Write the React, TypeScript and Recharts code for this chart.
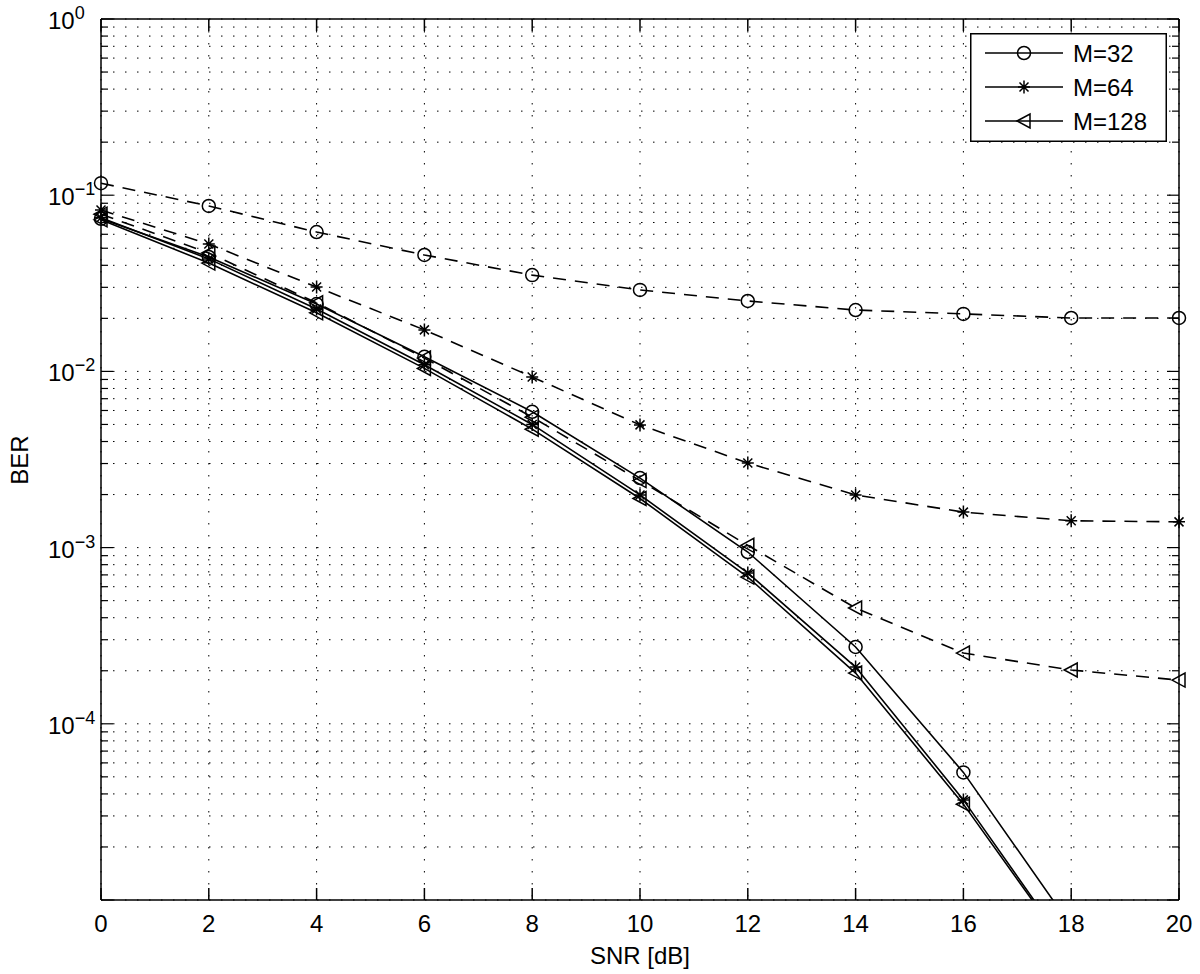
import React from "react";
import {
  LineChart,
  Line,
  XAxis,
  YAxis,
  CartesianGrid,
  ReferenceLine,
  Legend,
} from "recharts";

// SNR in dB
const SNR = [0, 2, 4, 6, 8, 10, 12, 14, 16, 18, 20];

// solid curves (run off the bottom of the plot after 16 dB)
const M32_SOLID = [0.0735, 0.0446, 0.0241, 0.0121, 0.0059, 0.00248, 0.000944, 0.000273, 5.3e-5, 7.1e-6, null];
const M64_SOLID = [0.0745, 0.0435, 0.0226, 0.0109, 0.0050, 0.00199, 0.000718, 0.00021, 3.7e-5, 5.0e-6, null];
const M128_SOLID = [0.0725, 0.0412, 0.0215, 0.0104, 0.00470, 0.00190, 0.00068, 0.000194, 3.5e-5, 4.9e-6, null];

// dashed curves
const M32_DASHED = [0.117, 0.0869, 0.0618, 0.0458, 0.0352, 0.029, 0.0251, 0.0223, 0.0212, 0.0201, 0.0201];
const M64_DASHED = [0.0824, 0.0528, 0.0301, 0.0172, 0.0093, 0.00497, 0.00302, 0.00199, 0.00159, 0.00142, 0.0014];
const M128_DASHED = [0.078, 0.047, 0.0245, 0.0119, 0.0055, 0.0024, 0.00103, 0.000454, 0.000252, 0.000202, 0.000177];

const X_TICKS = [0, 2, 4, 6, 8, 10, 12, 14, 16, 18, 20];
const DECADES = [1e-5, 1e-4, 1e-3, 1e-2, 1e-1, 1];
// bottom decade has no label in the original
const DECADE_EXP = [null, "\u22124", "\u22123", "\u22122", "\u22121", "0"];
const MINOR = [2, 3, 4, 5, 6, 7, 8, 9];
const LEGEND_NAMES = ["M=32", "M=64", "M=128"];

const Y_MIN = DECADES[0];
const Y_MAX = DECADES[DECADES.length - 1];
const Y_TICKS = DECADES.flatMap((d, i) =>
  i < DECADES.length - 1 ? [d, ...MINOR.map((m) => +(d * m).toPrecision(3))] : [d]
);

// layout
const W = 1200;
const H = 974;
const PLOT_LEFT = 101;
const PLOT_RIGHT = 1179;
const PLOT_TOP = 19;
const PLOT_BOTTOM = 900;
const FONT = '"Liberation Sans", Arial, Helvetica, sans-serif';

const inRange = (v: number | null) => (v != null && v >= Y_MIN ? v : null);

const rows = SNR.map((snr, i) => ({
  snr,
  m32: M32_SOLID[i],
  m64: M64_SOLID[i],
  m128: M128_SOLID[i],
  m32Dot: inRange(M32_SOLID[i]),
  m64Dot: inRange(M64_SOLID[i]),
  m128Dot: inRange(M128_SOLID[i]),
  m32d: M32_DASHED[i],
  m64d: M64_DASHED[i],
  m128d: M128_DASHED[i],
}));

type Shape = "circle" | "star" | "tri";

const Marker = ({ shape, cx, cy }: { shape: Shape; cx: number; cy: number }) => {
  if (shape === "circle")
    return <circle cx={cx} cy={cy} r={6.5} fill="none" stroke="#000" strokeWidth={1.5} />;
  if (shape === "star")
    return (
      <path
        d={`M${cx - 6},${cy}H${cx + 6}M${cx},${cy - 6.5}V${cy + 6.5}M${cx - 4.5},${cy - 4.5}L${cx + 4.5},${cy + 4.5}M${cx - 4.5},${cy + 4.5}L${cx + 4.5},${cy - 4.5}`}
        stroke="#000"
        strokeWidth={1.5}
        fill="none"
      />
    );
  return (
    <polygon
      points={`${cx - 7},${cy} ${cx + 6},${cy - 7} ${cx + 6},${cy + 7}`}
      fill="none"
      stroke="#000"
      strokeWidth={1.5}
    />
  );
};

const makeDot = (shape: Shape) => (props: any) => {
  const { cx, cy, index, value } = props;
  if (cx == null || cy == null || value == null) return <g key={`e-${index}`} />;
  return <Marker key={`d-${index}`} shape={shape} cx={cx} cy={cy} />;
};

const XTick = (props: any) => {
  const { x, payload } = props;
  return (
    <g>
      <line x1={x} x2={x} y1={PLOT_BOTTOM} y2={PLOT_BOTTOM - 12} stroke="#000" strokeWidth={1.5} />
      <line x1={x} x2={x} y1={PLOT_TOP} y2={PLOT_TOP + 12} stroke="#000" strokeWidth={1.5} />
      <text x={x} y={PLOT_BOTTOM + 32} textAnchor="middle" fontSize={24} fontFamily={FONT} fill="#000">
        {payload.value}
      </text>
    </g>
  );
};

const YTick = (props: any) => {
  const { y, payload } = props;
  const idx = DECADES.indexOf(payload.value);
  const len = idx >= 0 ? 12 : 7;
  return (
    <g>
      <line x1={PLOT_LEFT} x2={PLOT_LEFT + len} y1={y} y2={y} stroke="#000" strokeWidth={1.2} />
      <line x1={PLOT_RIGHT} x2={PLOT_RIGHT - len} y1={y} y2={y} stroke="#000" strokeWidth={1.2} />
      {idx >= 0 && DECADE_EXP[idx] && (
        <text x={48} y={y + 10} textAnchor="start" fontSize={24} fontFamily={FONT} fill="#000">
          10
          <tspan dy={-10} fontSize={18}>
            {DECADE_EXP[idx]}
          </tspan>
        </text>
      )}
    </g>
  );
};

const LEGEND_SHAPES: Shape[] = ["circle", "star", "tri"];

const LegendBox = () => (
  <svg width={197} height={109} style={{ display: "block" }}>
    <rect x={0.75} y={0.75} width={195.5} height={107.5} fill="#fff" stroke="#000" strokeWidth={1.5} />
    {LEGEND_NAMES.map((name, i) => {
      const cy = 20 + i * 34;
      return (
        <g key={name}>
          <line x1={15} x2={93} y1={cy} y2={cy} stroke="#000" strokeWidth={1.5} />
          <Marker shape={LEGEND_SHAPES[i]} cx={54} cy={cy} />
          <text x={103} y={cy + 9} fontSize={24} fontFamily={FONT} fill="#000">
            {name}
          </text>
        </g>
      );
    })}
  </svg>
);

export default function App() {
  return (
    <div style={{ position: "absolute", left: 0, top: 0, width: W, height: H, background: "#fff", fontFamily: FONT }}>
      <LineChart
        width={W}
        height={H}
        data={rows}
        margin={{ top: PLOT_TOP, right: W - PLOT_RIGHT, left: PLOT_LEFT - 80, bottom: H - PLOT_BOTTOM - 40 }}
      >
        <CartesianGrid stroke="#000" strokeWidth={1} strokeDasharray="1.5 10.5" />
        <XAxis
          dataKey="snr"
          type="number"
          domain={[0, 20]}
          ticks={X_TICKS}
          interval={0}
          height={40}
          tickLine={false}
          axisLine={{ stroke: "#000", strokeWidth: 1.5 }}
          tick={<XTick />}
          label={{
            content: () => (
              <text x={(PLOT_LEFT + PLOT_RIGHT) / 2} y={964} textAnchor="middle" fontSize={24} fontFamily={FONT} fill="#000">
                SNR [dB]
              </text>
            ),
          }}
        />
        <YAxis
          scale="log"
          domain={[Y_MIN, Y_MAX]}
          ticks={Y_TICKS}
          interval={0}
          allowDataOverflow
          width={80}
          tickLine={false}
          axisLine={{ stroke: "#000", strokeWidth: 1.5 }}
          tick={<YTick />}
          label={{
            content: () => (
              <text x={28} y={460} transform="rotate(-90, 28, 460)" textAnchor="middle" fontSize={24} fontFamily={FONT} fill="#000">
                BER
              </text>
            ),
          }}
        />
        <YAxis yAxisId="mk" hide scale="log" domain={[Y_MIN, Y_MAX]} ticks={Y_TICKS} />
        <ReferenceLine y={Y_MAX} stroke="#000" strokeWidth={1.5} />
        <ReferenceLine x={20} stroke="#000" strokeWidth={1.5} />

        {/* solid curves, clipped to the plot */}
        <Line dataKey="m32" stroke="#000" strokeWidth={1.6} dot={false} isAnimationActive={false} />
        <Line dataKey="m64" stroke="#000" strokeWidth={1.6} dot={false} isAnimationActive={false} />
        <Line dataKey="m128" stroke="#000" strokeWidth={1.6} dot={false} isAnimationActive={false} />

        {/* markers for the solid curves */}
        <Line yAxisId="mk" dataKey="m32Dot" stroke="none" dot={makeDot("circle")} isAnimationActive={false} />
        <Line yAxisId="mk" dataKey="m64Dot" stroke="none" dot={makeDot("star")} isAnimationActive={false} />
        <Line yAxisId="mk" dataKey="m128Dot" stroke="none" dot={makeDot("tri")} isAnimationActive={false} />

        {/* dashed curves */}
        <Line yAxisId="mk" dataKey="m32d" stroke="#000" strokeWidth={1.6} strokeDasharray="13 9" dot={makeDot("circle")} isAnimationActive={false} />
        <Line yAxisId="mk" dataKey="m64d" stroke="#000" strokeWidth={1.6} strokeDasharray="13 9" dot={makeDot("star")} isAnimationActive={false} />
        <Line yAxisId="mk" dataKey="m128d" stroke="#000" strokeWidth={1.6} strokeDasharray="13 9" dot={makeDot("tri")} isAnimationActive={false} />

        <Legend
          layout="vertical"
          align="center"
          verticalAlign="middle"
          content={() => <LegendBox />}
          wrapperStyle={{ left: 970, top: 33, width: 197, height: 109 }}
        />
      </LineChart>
    </div>
  );
}
